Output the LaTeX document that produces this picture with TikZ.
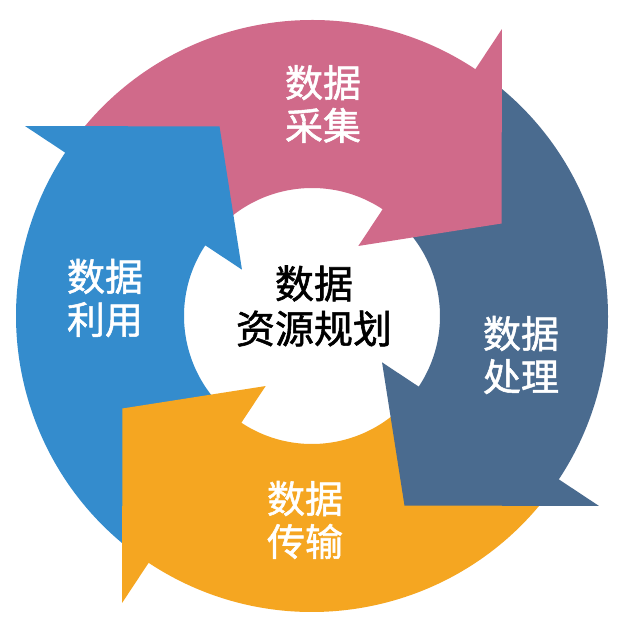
\documentclass[tikz,border=0pt]{standalone}
\usepackage{fontspec}
\newfontfamily\cjk[FakeBold=1.4]{Noto Sans CJK SC}
\definecolor{pinkarrow}{RGB}{208,106,138}
\definecolor{slatearrow}{RGB}{74,107,143}
\definecolor{orangearrow}{RGB}{245,166,33}
\definecolor{bluearrow}{RGB}{52,140,205}
\begin{document}
\begin{tikzpicture}[x=1pt,y=1pt,
    cyclelabel/.style={font=\cjk\fontsize{38}{43}\selectfont,
      text=white, align=center, inner sep=0pt}]
  \useasboundingbox (0,0) rectangle (624,624);
  \fill[white] (0,0) rectangle (624,624);

  % ring bodies first, so that every head lies on the next tail
  \foreach \b/\col in {56.5/pinkarrow, -33.5/slatearrow, -123.5/orangearrow, 146.5/bluearrow}
    \fill[\col, shift={(312,308)}]
      (\b+88:296pt) arc[start angle=\b+88, end angle=\b-1, radius=296pt]
      -- (\b-1:128pt) arc[start angle=\b-1, end angle=\b+88, radius=128pt] -- cycle;

  % arrow heads
  \foreach \b/\col in {56.5/pinkarrow, -33.5/slatearrow, -123.5/orangearrow, 146.5/bluearrow}
    \fill[\col, shift={(312,308)}] (\b:344pt) -- (\b-30.5:211pt) -- (\b:84pt) -- cycle;

  \node[cyclelabel] (collect) at (323,520) {数据\\采集};
  \node[cyclelabel] (process) at (521,269) {数据\\处理};
  \node[cyclelabel] (transfer) at (305,104) {数据\\传输};
  \node[cyclelabel] (use) at (105,326) {数据\\利用};
  \node[cyclelabel, text=black, font=\cjk\fontsize{39}{45}\selectfont] (plan) at (314,318) {数据\\资源规划};
\end{tikzpicture}
\end{document}
